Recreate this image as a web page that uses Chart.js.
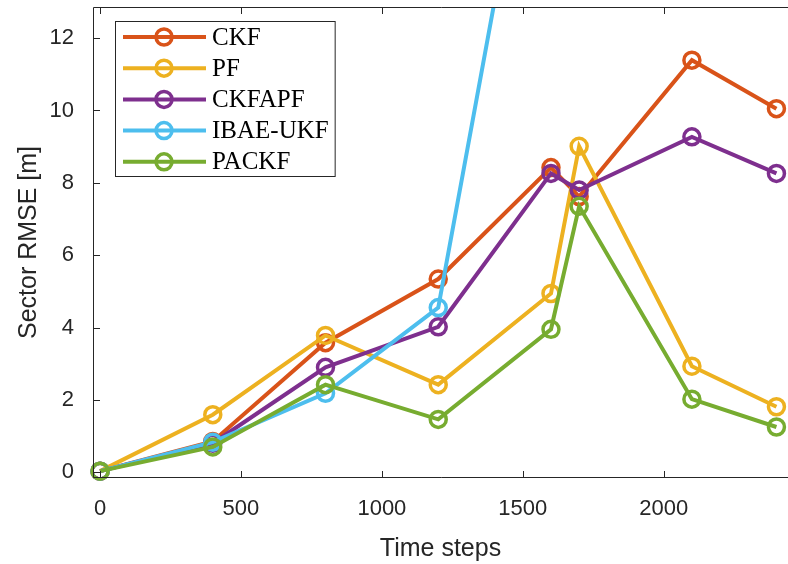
<!DOCTYPE html>
<html>
<head>
<meta charset="utf-8">
<script src="https://cdn.jsdelivr.net/npm/chart.js@4"></script>
<style>
  html, body { margin: 0; padding: 0; background: #fff; }
  #wrap { width: 788px; height: 564px; }
</style>
</head>
<body>
<div id="wrap"><canvas id="rmseChart" width="788" height="564"></canvas></div>
<script>
// time steps where RMSE was sampled
let steps = [0, 400, 800, 1200, 1600, 1700, 2100, 2400];

let ckf = [0.03, 0.85, 3.58, 5.34, 8.42, 7.62, 11.39, 10.05];
let pf = [0.03, 1.59, 3.78, 2.42, 4.94, 9.01, 2.93, 1.81];
let ckfapf = [0.03, 0.8, 2.9, 4.02, 8.26, 7.8, 9.27, 8.26];
let ibaeUkf = [0.03, 0.83, 2.18, 4.55, 21.5, 25, 35, 40];
let packf = [0.03, 0.7, 2.42, 1.46, 3.95, 7.35, 2.02, 1.25];

let seriesNames = ["CKF", "PF", "CKFAPF", "IBAE-UKF", "PACKF"];
let seriesColors = ["#D95319", "#EDB120", "#7E2F8E", "#4DBEEE", "#77AC30"];

let xTicks = [0, 500, 1000, 1500, 2000];
let yTicks = [0, 2, 4, 6, 8, 10, 12];

const axisColor = "#262626";

function toPoints(vals) {
  return steps.map((s, i) => ({ x: s, y: vals[i] }));
}

let allSeries = [ckf, pf, ckfapf, ibaeUkf, packf];

let datasets = allSeries.map((vals, i) => ({
  label: seriesNames[i],
  data: toPoints(vals),
  borderColor: seriesColors[i],
  backgroundColor: "transparent",
  borderWidth: 4,
  pointRadius: 8,
  pointBorderWidth: 3.5,
  pointBackgroundColor: "transparent",
  pointBorderColor: seriesColors[i],
  pointHoverRadius: 8,
  tension: 0,
  order: allSeries.length - i, // later series on top, like MATLAB
  clip: { left: 12, right: 12, top: 0, bottom: 12 },
}));

function noPad(s) {
  s.paddingTop = 0;
  s.paddingBottom = 0;
  s.paddingLeft = 0;
  s.paddingRight = 0;
}

// frame + inward ticks, MATLAB style (right side falls off the picture)
const boxTicks = {
  id: "boxTicks",
  afterDatasetsDraw(chart) {
    const { ctx, chartArea: a, scales } = chart;
    ctx.save();
    ctx.strokeStyle = axisColor;
    ctx.lineWidth = 1;
    ctx.beginPath();
    ctx.moveTo(a.right + 2, a.top + 0.5);
    ctx.lineTo(a.left + 0.5, a.top + 0.5);
    ctx.lineTo(a.left + 0.5, a.bottom - 0.5);
    ctx.lineTo(a.right + 2, a.bottom - 0.5);
    ctx.stroke();
    ctx.beginPath();
    xTicks.forEach((t) => {
      const px = Math.round(scales.x.getPixelForValue(t)) + 0.5;
      ctx.moveTo(px, a.bottom);
      ctx.lineTo(px, a.bottom - 7);
      ctx.moveTo(px, a.top);
      ctx.lineTo(px, a.top + 7);
    });
    yTicks.forEach((t) => {
      const py = Math.round(scales.y.getPixelForValue(t)) + 0.5;
      ctx.moveTo(a.left, py);
      ctx.lineTo(a.left + 7, py);
    });
    ctx.stroke();
    ctx.restore();
  },
};

// legend drawn like MATLAB's: line with circle marker, serif labels
const boxLegend = {
  id: "boxLegend",
  afterDraw(chart) {
    const ctx = chart.ctx;
    const left = 115, top = 21, rowH = 31.2, firstY = 37;
    ctx.save();
    ctx.font = "25px 'Liberation Serif'";
    let maxW = 0;
    chart.data.datasets.forEach((d) => {
      maxW = Math.max(maxW, ctx.measureText(d.label).width);
    });
    const w = 212 - left + maxW + 6;
    const h = 155;
    ctx.fillStyle = "#fff";
    ctx.fillRect(left, top, w, h);
    ctx.strokeStyle = axisColor;
    ctx.lineWidth = 1;
    ctx.strokeRect(left + 0.5, top + 0.5, w, h);
    chart.data.datasets.forEach((d, i) => {
      const y = firstY + i * rowH;
      ctx.strokeStyle = d.borderColor;
      ctx.lineWidth = 4;
      ctx.beginPath();
      ctx.moveTo(123, y);
      ctx.lineTo(206, y);
      ctx.stroke();
      ctx.lineWidth = 3.5;
      ctx.beginPath();
      ctx.arc(164, y, 8, 0, Math.PI * 2);
      ctx.stroke();
      ctx.fillStyle = "#000";
      ctx.textBaseline = "middle";
      ctx.textAlign = "left";
      ctx.fillText(d.label, 212, y + 1);
    });
    ctx.restore();
  },
};

let ctx = document.getElementById("rmseChart").getContext("2d");

let rmseChart = new Chart(ctx, {
  type: "line",
  data: { datasets: datasets },
  plugins: [boxTicks, boxLegend],
  options: {
    responsive: false,
    animation: false,
    layout: { autoPadding: false, padding: { left: 0, right: 0, top: 7, bottom: 0 } },
    plugins: {
      legend: { display: false },
      tooltip: { enabled: false },
    },
    scales: {
      x: {
        type: "linear",
        min: -25,
        max: 2441,
        grid: { display: false },
        border: { display: false },
        afterBuildTicks: (s) => { s.ticks = xTicks.map((v) => ({ value: v })); },
        afterFit: (s) => { s.height = 86; noPad(s); },
        ticks: {
          padding: 10,
          color: axisColor,
          font: { family: "'Liberation Sans', Arial", size: 22 },
          maxRotation: 0,
          callback: (v) => String(v),
        },
        title: {
          display: true,
          text: "Time steps",
          color: axisColor,
          font: { family: "'Liberation Sans', Arial", size: 25 },
          padding: { top: 0, bottom: 0 },
        },
      },
      y: {
        type: "linear",
        min: -0.16,
        max: 12.86,
        grid: { display: false },
        border: { display: false },
        afterBuildTicks: (s) => { s.ticks = yTicks.map((v) => ({ value: v })); },
        afterFit: (s) => { s.width = 93; noPad(s); },
        ticks: {
          padding: 11,
          color: axisColor,
          font: { family: "'Liberation Sans', Arial", size: 22 },
          callback: (v) => String(v),
        },
        title: {
          display: true,
          text: "Sector RMSE [m]",
          color: axisColor,
          font: { family: "'Liberation Sans', Arial", size: 25 },
          padding: { top: 14, bottom: 0 },
        },
      },
    },
  },
});
</script>
</body>
</html>
